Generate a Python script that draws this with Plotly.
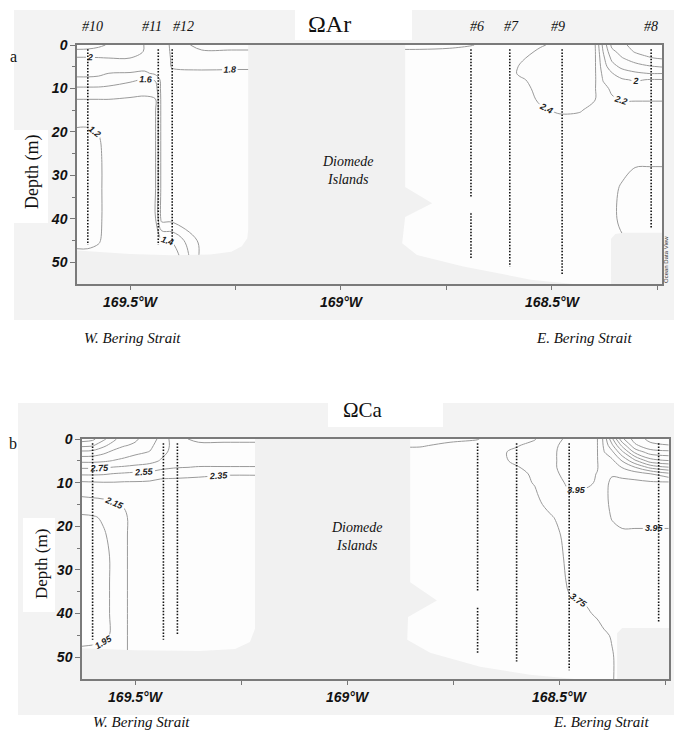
import numpy as np
import plotly.graph_objects as go

W, H = 674, 733
def px(x):
    return x / W
def py(y):
    return 1 - y / H

# ---------------- data ----------------
depths = [0, 1.5, 3, 5, 6.5, 8, 10, 12.5, 15, 18, 22, 27, 33, 40, 45, 50, 55]

# Omega Aragonite, west of Diomede Islands (one list per longitude column, top->bottom)
ar_west_lon = [-169.626, -169.600, -169.575, -169.550, -169.500, -169.465,
               -169.440, -169.425, -169.400, -169.330, -169.260, -169.200]
ar_west = [
    [2.30, 2.15, 1.98, 1.90, 1.85, 1.76, 1.57, 1.40, 1.30, 1.21, 1.17, 1.16, 1.15, 1.15, 1.17, 1.25, 1.30],
    [2.28, 2.15, 1.98, 1.90, 1.85, 1.76, 1.57, 1.40, 1.30, 1.21, 1.17, 1.16, 1.15, 1.15, 1.17, 1.25, 1.30],
    [2.24, 2.13, 1.99, 1.90, 1.84, 1.75, 1.57, 1.40, 1.30, 1.22, 1.19, 1.18, 1.18, 1.18, 1.19, 1.25, 1.30],
    [2.18, 2.10, 2.00, 1.88, 1.80, 1.70, 1.56, 1.40, 1.32, 1.26, 1.24, 1.24, 1.24, 1.24, 1.24, 1.27, 1.30],
    [2.15, 2.08, 2.00, 1.88, 1.79, 1.64, 1.50, 1.38, 1.33, 1.30, 1.30, 1.30, 1.30, 1.30, 1.30, 1.30, 1.30],
    [1.99, 1.99, 1.97, 1.88, 1.76, 1.58, 1.47, 1.37, 1.34, 1.32, 1.32, 1.32, 1.32, 1.32, 1.32, 1.30, 1.30],
    [1.95, 1.93, 1.92, 1.90, 1.85, 1.62, 1.50, 1.39, 1.38, 1.38, 1.38, 1.38, 1.38, 1.38, 1.36, 1.30, 1.30],
    [1.90, 1.90, 1.90, 1.88, 1.87, 1.87, 1.87, 1.87, 1.87, 1.87, 1.87, 1.87, 1.87, 1.87, 1.38, 1.25, 1.25],
    [1.76, 1.77, 1.78, 1.79, 1.83, 1.86, 1.87, 1.87, 1.87, 1.87, 1.87, 1.87, 1.87, 1.87, 1.42, 1.20, 1.20],
    [1.50, 1.63, 1.69, 1.76, 1.84, 1.87, 1.87, 1.87, 1.87, 1.87, 1.87, 1.87, 1.87, 1.87, 1.87, 1.87, 1.87],
    [1.50, 1.63, 1.70, 1.77, 1.84, 1.86, 1.86, 1.86, 1.86, 1.86, 1.86, 1.86, 1.86, 1.86, 1.86, 1.86, 1.86],
    [1.50, 1.63, 1.70, 1.77, 1.84, 1.86, 1.86, 1.86, 1.86, 1.86, 1.86, 1.86, 1.86, 1.86, 1.86, 1.86, 1.86],
]

# Omega Aragonite, east of Diomede Islands
ar_east_lon = [-168.870, -168.813, -168.742, -168.692, -168.623, -168.576, -168.528, -168.481,
               -168.434, -168.398, -168.379, -168.358, -168.334, -168.303, -168.268, -168.239]
ar_east = [
    [2.10, 2.25, 2.30, 2.30, 2.30, 2.30, 2.30, 2.30, 2.30, 2.30, 2.30, 2.30, 2.30, 2.30, 2.30, 2.30, 2.30],
    [2.10, 2.25, 2.30, 2.30, 2.30, 2.30, 2.30, 2.30, 2.30, 2.30, 2.30, 2.30, 2.30, 2.30, 2.30, 2.30, 2.30],
    [2.15, 2.25, 2.30, 2.30, 2.30, 2.30, 2.30, 2.30, 2.30, 2.30, 2.30, 2.30, 2.30, 2.30, 2.30, 2.30, 2.30],
    [2.19, 2.27, 2.30, 2.30, 2.30, 2.30, 2.30, 2.30, 2.30, 2.30, 2.30, 2.30, 2.30, 2.30, 2.30, 2.30, 2.30],
    [2.28, 2.30, 2.30, 2.30, 2.30, 2.30, 2.30, 2.30, 2.30, 2.30, 2.30, 2.30, 2.30, 2.30, 2.30, 2.30, 2.30],
    [2.30, 2.33, 2.38, 2.41, 2.42, 2.38, 2.35, 2.33, 2.32, 2.30, 2.30, 2.30, 2.30, 2.30, 2.30, 2.30, 2.30],
    [2.38, 2.43, 2.45, 2.46, 2.46, 2.45, 2.44, 2.42, 2.38, 2.33, 2.30, 2.30, 2.30, 2.30, 2.30, 2.30, 2.30],
    [2.45, 2.46, 2.47, 2.47, 2.47, 2.46, 2.45, 2.44, 2.42, 2.35, 2.30, 2.30, 2.30, 2.30, 2.30, 2.30, 2.30],
    [2.45, 2.46, 2.46, 2.46, 2.46, 2.45, 2.44, 2.43, 2.41, 2.35, 2.30, 2.30, 2.30, 2.30, 2.30, 2.30, 2.30],
    [2.41, 2.42, 2.42, 2.42, 2.42, 2.42, 2.41, 2.405, 2.36, 2.32, 2.30, 2.30, 2.30, 2.30, 2.30, 2.30, 2.30],
    [1.95, 2.00, 2.05, 2.10, 2.15, 2.19, 2.25, 2.28, 2.30, 2.30, 2.30, 2.32, 2.34, 2.34, 2.32, 2.30, 2.30],
    [1.55, 1.65, 1.75, 1.88, 2.01, 2.10, 2.17, 2.22, 2.26, 2.30, 2.32, 2.35, 2.38, 2.38, 2.35, 2.30, 2.30],
    [1.45, 1.52, 1.61, 1.75, 1.90, 2.02, 2.12, 2.19, 2.25, 2.30, 2.33, 2.37, 2.41, 2.42, 2.39, 2.30, 2.30],
    [1.32, 1.38, 1.50, 1.68, 1.83, 1.98, 2.10, 2.19, 2.25, 2.29, 2.33, 2.39, 2.44, 2.45, 2.41, 2.30, 2.30],
    [1.30, 1.34, 1.41, 1.62, 1.79, 2.01, 2.12, 2.19, 2.25, 2.29, 2.33, 2.39, 2.45, 2.46, 2.41, 2.30, 2.30],
    [1.30, 1.33, 1.38, 1.59, 1.79, 2.01, 2.12, 2.19, 2.25, 2.29, 2.33, 2.39, 2.45, 2.46, 2.41, 2.30, 2.30],
]

# Omega Calcite, west
ca_west_lon = [-169.625, -169.600, -169.575, -169.550, -169.525, -169.500,
               -169.465, -169.440, -169.400, -169.350, -169.290, -169.200]
ca_west = [
    [3.85, 3.60, 3.30, 3.00, 2.78, 2.58, 2.32, 2.19, 2.05, 1.92, 1.90, 1.88, 1.88, 1.88, 1.90, 2.00, 2.00],
    [3.80, 3.57, 3.28, 3.00, 2.78, 2.58, 2.33, 2.20, 2.07, 1.93, 1.91, 1.90, 1.90, 1.90, 1.91, 2.00, 2.00],
    [3.60, 3.40, 3.20, 2.98, 2.77, 2.57, 2.34, 2.20, 2.10, 1.97, 1.93, 1.92, 1.92, 1.92, 1.92, 2.00, 2.00],
    [3.40, 3.25, 3.10, 2.94, 2.74, 2.54, 2.34, 2.20, 2.14, 2.05, 2.00, 1.97, 1.97, 1.97, 1.97, 2.00, 2.00],
    [3.20, 3.16, 3.05, 2.90, 2.72, 2.52, 2.33, 2.20, 2.16, 2.13, 2.13, 2.13, 2.13, 2.13, 2.13, 2.13, 2.13],
    [3.18, 3.12, 3.00, 2.85, 2.70, 2.50, 2.33, 2.25, 2.22, 2.20, 2.20, 2.20, 2.20, 2.20, 2.20, 2.20, 2.20],
    [3.05, 3.00, 2.94, 2.80, 2.68, 2.48, 2.32, 2.26, 2.24, 2.23, 2.22, 2.22, 2.22, 2.22, 2.22, 2.22, 2.22],
    [2.90, 2.85, 2.80, 2.74, 2.62, 2.42, 2.30, 2.26, 2.25, 2.24, 2.24, 2.24, 2.24, 2.24, 2.24, 2.24, 2.24],
    [2.60, 2.66, 2.68, 2.65, 2.56, 2.40, 2.30, 2.26, 2.25, 2.25, 2.25, 2.25, 2.25, 2.25, 2.25, 2.25, 2.25],
    [2.50, 2.60, 2.64, 2.62, 2.54, 2.38, 2.30, 2.27, 2.26, 2.25, 2.25, 2.25, 2.25, 2.25, 2.25, 2.25, 2.25],
    [2.50, 2.60, 2.64, 2.62, 2.54, 2.36, 2.30, 2.27, 2.26, 2.25, 2.25, 2.25, 2.25, 2.25, 2.25, 2.25, 2.25],
    [2.50, 2.60, 2.64, 2.62, 2.54, 2.36, 2.30, 2.27, 2.26, 2.25, 2.25, 2.25, 2.25, 2.25, 2.25, 2.25, 2.25],
]

# Omega Calcite, east
ca_east_lon = [-168.875, -168.828, -168.757, -168.693, -168.639, -168.599, -168.557, -168.517,
               -168.476, -168.436, -168.410, -168.394, -168.375, -168.351, -168.321, -168.285, -168.241]
ca_east = [
    [3.45, 3.53, 3.62, 3.68, 3.70, 3.70, 3.70, 3.70, 3.70, 3.70, 3.70, 3.70, 3.70, 3.70, 3.70, 3.70, 3.70],
    [3.45, 3.53, 3.62, 3.68, 3.70, 3.70, 3.70, 3.70, 3.70, 3.70, 3.70, 3.70, 3.70, 3.70, 3.70, 3.70, 3.70],
    [3.50, 3.60, 3.66, 3.70, 3.70, 3.70, 3.70, 3.70, 3.70, 3.70, 3.70, 3.70, 3.70, 3.70, 3.70, 3.70, 3.70],
    [3.54, 3.62, 3.68, 3.70, 3.70, 3.70, 3.70, 3.70, 3.70, 3.70, 3.70, 3.70, 3.70, 3.70, 3.70, 3.70, 3.70],
    [3.65, 3.70, 3.73, 3.72, 3.70, 3.70, 3.70, 3.70, 3.70, 3.70, 3.70, 3.70, 3.70, 3.70, 3.70, 3.70, 3.70],
    [3.70, 3.74, 3.78, 3.78, 3.74, 3.70, 3.70, 3.70, 3.70, 3.70, 3.70, 3.70, 3.70, 3.70, 3.70, 3.70, 3.70],
    [3.74, 3.80, 3.82, 3.82, 3.80, 3.78, 3.76, 3.73, 3.71, 3.70, 3.70, 3.70, 3.70, 3.70, 3.70, 3.70, 3.70],
    [3.90, 3.92, 3.93, 3.93, 3.93, 3.92, 3.90, 3.86, 3.80, 3.74, 3.72, 3.71, 3.70, 3.70, 3.70, 3.70, 3.70],
    [3.98, 4.00, 4.00, 4.00, 4.00, 3.99, 3.97, 3.94, 3.88, 3.82, 3.78, 3.77, 3.76, 3.73, 3.71, 3.70, 3.70],
    [3.98, 4.00, 4.00, 4.00, 4.00, 3.99, 3.97, 3.93, 3.88, 3.84, 3.82, 3.80, 3.78, 3.74, 3.72, 3.70, 3.70],
    [3.96, 3.96, 3.96, 3.96, 3.96, 3.945, 3.94, 3.90, 3.87, 3.85, 3.84, 3.82, 3.80, 3.76, 3.72, 3.70, 3.70],
    [3.70, 3.72, 3.76, 3.82, 3.87, 3.90, 3.92, 3.92, 3.91, 3.89, 3.87, 3.85, 3.83, 3.80, 3.73, 3.72, 3.72],
    [3.20, 3.40, 3.60, 3.80, 3.90, 3.94, 3.97, 3.98, 3.98, 3.96, 3.90, 3.86, 3.83, 3.80, 3.76, 3.74, 3.74],
    [2.60, 2.90, 3.20, 3.54, 3.74, 3.90, 4.00, 4.02, 4.02, 4.00, 3.92, 3.88, 3.86, 3.84, 3.82, 3.80, 3.80],
    [2.25, 2.40, 2.70, 3.20, 3.56, 3.85, 4.00, 4.02, 4.02, 4.00, 3.92, 3.88, 3.87, 3.86, 3.84, 3.82, 3.82],
    [2.10, 2.20, 2.45, 2.85, 3.30, 3.76, 3.98, 4.02, 4.02, 4.00, 3.92, 3.88, 3.87, 3.86, 3.85, 3.84, 3.84],
    [2.05, 2.16, 2.40, 2.76, 3.16, 3.60, 3.98, 4.02, 4.02, 4.00, 3.92, 3.88, 3.87, 3.86, 3.85, 3.84, 3.84],
]

# Land (Diomede Islands) and sea floor outline
land_a_lon = [-169.64, -169.50, -169.40, -169.31, -169.26, -169.235, -169.222, -169.22, -169.22,
              -168.848, -168.848, -168.784, -168.848, -168.855, -168.82, -168.71, -168.55, -168.40,
              -168.36, -168.36, -168.35, -168.33, -168.23, -168.23, -169.64]
land_a_depth = [47.2, 48.1, 48.4, 48.2, 47.6, 46.3, 44.5, 42.5, 0,
                0, 32.7, 36.4, 39.6, 45.6, 48.3, 51.0, 54.0, 55.5,
                55.5, 44.6, 43.5, 43.2, 43.2, 56, 56]
land_b_lon = [-169.64, -169.50, -169.347, -169.264, -169.229, -169.217, -169.217,
              -168.851, -168.851, -168.788, -168.856, -168.858, -168.804, -168.686, -168.568, -168.410,
              -168.363, -168.363, -168.351, -168.23, -168.23, -169.64]
land_b_depth = [47.9, 48.4, 48.6, 48.1, 46.5, 43.5, 0,
                0, 32.8, 37.0, 40.8, 46.0, 49.0, 52.2, 54.0, 55.5,
                55.5, 44.5, 43.3, 43.3, 56, 56]

# CTD stations
station_names = ['#10', '#11', '#12', '#6', '#7', '#9', '#8']
station_lon = [-169.600, -169.433, -169.400, -168.692, -168.600, -168.476, -168.265]
station_top = 1.0
station_bottom = [46, 46, 45, 49, 51, 53, 42]
station_gap = [None, None, None, (35, 38.7), None, None, None]

lon_ticks = [-169.5, -169.25, -169.0, -168.75, -168.5, -168.25]
lon_labels = ['169.5°W', '', '169°W', '', '168.5°W', '']
depth_ticks = [0, 10, 20, 30, 40, 50]

# label nudges (pixels) for the station names, purely cosmetic
station_label_shift = [5, -6, 11, 6, 2, -4, 0]

# ---------------- figure ----------------
SANS = 'Liberation Sans'
SERIF = 'Liberation Serif'
fig = go.Figure()

def add_contour(lon, cols, start, end, fmt, xa, ya):
    z = np.array(cols).T
    fig.add_trace(go.Contour(
        x=lon, y=depths, z=z, xaxis=xa, yaxis=ya, autocontour=False,
        contours=dict(start=start, end=end, size=0.2, coloring='none', showlabels=True,
                      labelformat=fmt,
                      labelfont=dict(family=SANS, size=9, color='#222222', weight='bold', style='italic')),
        line=dict(color='#9a9a9a', width=1, smoothing=1),
        showscale=False, hoverinfo='skip'))

def add_land(lon, dep, xa, ya):
    fig.add_trace(go.Scatter(x=lon, y=dep, xaxis=xa, yaxis=ya, mode='lines', fill='toself',
                             fillcolor='#f1f1f1', line=dict(width=0, color='#f1f1f1'),
                             hoverinfo='skip'))

def add_stations(xa, ya):
    xs, ys = [], []
    for lon, b, gap in zip(station_lon, station_bottom, station_gap):
        if gap:
            xs += [lon, lon, None, lon, lon, None]
            ys += [station_top, gap[0], None, gap[1], b, None]
        else:
            xs += [lon, lon, None]
            ys += [station_top, b, None]
    fig.add_trace(go.Scatter(x=xs, y=ys, xaxis=xa, yaxis=ya, mode='lines',
                             line=dict(color='#111111', width=1.6, dash='1.5px,1.6px'),
                             hoverinfo='skip', connectgaps=False))

add_contour(ar_west_lon, ar_west, 1.2, 2.4, '.1~f', 'x', 'y')
add_contour(ar_east_lon, ar_east, 1.2, 2.4, '.1~f', 'x', 'y')
add_land(land_a_lon, land_a_depth, 'x', 'y')
add_stations('x', 'y')

add_contour(ca_west_lon, ca_west, 1.95, 3.95, '.2f', 'x2', 'y2')
add_contour(ca_east_lon, ca_east, 1.95, 3.95, '.2f', 'x2', 'y2')
add_land(land_b_lon, land_b_depth, 'x2', 'y2')
add_stations('x2', 'y2')

tickfont = dict(family=SANS, size=14, color='#111111', weight='bold', style='italic')
def xaxis(dom, rng, anchor):
    return dict(domain=dom, range=rng, anchor=anchor, tickmode='array', tickvals=lon_ticks,
                ticktext=lon_labels, ticks='outside', ticklen=4, tickcolor='#777777',
                showline=True, linecolor='#7a7a7a', linewidth=1.5, mirror=True, automargin=False,
                showgrid=False, zeroline=False, tickfont=tickfont)
def yaxis(dom, anchor):
    return dict(domain=dom, range=[55, 0], anchor=anchor, tickmode='array', tickvals=depth_ticks,
                ticks='outside', ticklen=5, tickcolor='#777777', automargin=False,
                minor=dict(ticks='outside', ticklen=3, tickmode='array', tickvals=[5, 15, 25, 35, 45],
                           tickcolor='#777777', showgrid=False),
                showline=True, linecolor='#7a7a7a', linewidth=1.5, mirror=True,
                showgrid=False, zeroline=False, tickfont=tickfont)

shapes = [
    dict(type='rect', xref='paper', yref='paper', x0=px(14), x1=1, y0=py(320), y1=py(10),
         fillcolor='#f3f3f3', line=dict(width=0), layer='below'),
    dict(type='rect', xref='paper', yref='paper', x0=px(295), x1=px(412), y0=py(40), y1=1,
         fillcolor='white', line=dict(width=0), layer='below'),
    dict(type='rect', xref='paper', yref='paper', x0=px(14), x1=px(48), y0=py(223), y1=py(130),
         fillcolor='white', line=dict(width=0), layer='below'),
    dict(type='rect', xref='paper', yref='paper', x0=px(18), x1=1, y0=py(715), y1=py(403),
         fillcolor='#f3f3f3', line=dict(width=0), layer='below'),
    dict(type='rect', xref='paper', yref='paper', x0=px(328), x1=px(443), y0=py(427), y1=py(390),
         fillcolor='white', line=dict(width=0), layer='below'),
    dict(type='rect', xref='paper', yref='paper', x0=px(23), x1=px(55), y0=py(612), y1=py(518),
         fillcolor='white', line=dict(width=0), layer='below'),
    dict(type='rect', xref='x domain', yref='y domain', x0=0, x1=1, y0=0, y1=1,
         fillcolor='#fdfdfd', line=dict(width=0), layer='below'),
    dict(type='rect', xref='x2 domain', yref='y2 domain', x0=0, x1=1, y0=0, y1=1,
         fillcolor='#fdfdfd', line=dict(width=0), layer='below'),
]

def ann(text, x, y, size, family=SERIF, italic=False, angle=0, color='#111111', xref='paper', xshift=0):
    return dict(text=text, x=x, y=y, xref=xref, yref='paper', showarrow=False,
                xanchor='center', yanchor='middle', textangle=angle, xshift=xshift,
                font=dict(family=family, size=size, color=color, style='italic' if italic else 'normal'))

annotations = [
    ann('ΩAr', px(329), py(24), 24),
    ann('ΩCa', px(363), py(410), 21),
    ann('a', px(13), py(57), 16),
    ann('b', px(13), py(443), 16),
    ann('Depth (m)', px(33), py(172), 18, angle=-90),
    ann('Depth (m)', px(41), py(564), 17, angle=-90),
    ann('Diomede<br>Islands', px(348), py(170), 14, italic=True),
    ann('Diomede<br>Islands', px(357), py(536), 14, italic=True),
    ann('W. Bering Strait', px(132), py(338), 15, italic=True),
    ann('E. Bering Strait', px(584), py(338), 15, italic=True),
    ann('W. Bering Strait', px(141), py(722), 15, italic=True),
    ann('E. Bering Strait', px(601), py(722), 15, italic=True),
    ann('Ocean Data View', px(666), py(260), 6, family=SANS, angle=-90, color='#333333'),
]
for name, lon, sh in zip(station_names, station_lon, station_label_shift):
    annotations.append(ann(name, lon, py(27), 14, italic=True, xref='x', xshift=sh))

fig.update_layout(
    width=W, height=H, margin=dict(l=0, r=0, t=0, b=0, autoexpand=False),
    paper_bgcolor='white', plot_bgcolor='rgba(0,0,0,0)', showlegend=False,
    xaxis=xaxis([px(77), px(662)], [-169.6256, -168.2393], 'y'),
    yaxis=yaxis([py(284), py(45)], 'x'),
    xaxis2=xaxis([px(82), px(669)], [-169.625, -168.2406], 'y2'),
    yaxis2=yaxis([py(679), py(439)], 'x2'),
    shapes=shapes, annotations=annotations,
)

fig.write_html('out.html', config={'displayModeBar': False},
               post_script="document.body.style.margin='0';document.body.style.overflow='hidden';")
